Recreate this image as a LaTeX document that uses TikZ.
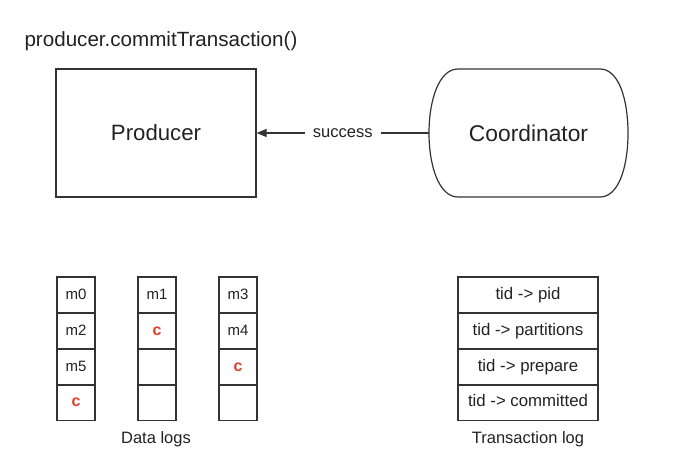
\documentclass[tikz,border=0pt]{standalone}
\usepackage{fontspec}
\setmainfont{Liberation Sans}
\usetikzlibrary{arrows.meta}
\definecolor{ink}{HTML}{333333}
\definecolor{txt}{HTML}{222222}
\definecolor{cred}{HTML}{E0402A}
\tikzset{
  box/.style={draw=ink, line width=1.2pt, text=txt},
  cell/.style={draw=ink, line width=1.1pt, minimum width=38pt, minimum height=36pt, inner sep=0pt, text=txt, font=\fontsize{15}{17}\selectfont, text height=11pt, text depth=3pt},
  tcell/.style={cell, minimum width=140pt, font=\fontsize{16.8}{19}\selectfont, text height=12pt, text depth=3.5pt},
  cmark/.style={text=cred, font=\fontsize{16}{18}\selectfont\bfseries},
  caption/.style={text=txt, font=\fontsize{16.5}{18}\selectfont},
  link/.style={draw=ink, line width=1.2pt},
}
\begin{document}
\begin{tikzpicture}[x=1pt,y=-1pt]
\useasboundingbox (0,0) rectangle (695,462);
\node[text=txt, font=\fontsize{20.6}{23}\selectfont, anchor=west] (title) at (21,41) {producer.commitTransaction()};
\node[box, minimum width=200pt, minimum height=128pt, inner sep=0pt, font=\fontsize{22.2}{25}\selectfont] (prod) at (156,133) {Producer};
\node[minimum width=199pt, minimum height=128pt, inner sep=0pt, text=txt, font=\fontsize{22.8}{25}\selectfont] (coord) at (528.5,133) {Coordinator};
\draw[ink, line width=1.2pt] (458,69) -- (600,69) .. controls (619,69) and (628,100) .. (628,133) .. controls (628,166) and (619,197) .. (600,197) -- (458,197) .. controls (439,197) and (429,166) .. (429,133) .. controls (429,100) and (439,69) .. (458,69) -- cycle;
\draw[link, -{Triangle[length=10pt,width=8pt]}] (coord.west) -- node[fill=white, inner xsep=8pt, text=txt, font=\fontsize{16.5}{18}\selectfont] (succ) {success} (prod.east);
% data logs
\node[cell] (a1) at (76,295) {m0};
\node[cell] (a2) at (76,331) {m2};
\node[cell] (a3) at (76,367) {m5};
\node[cell, cmark] (a4) at (76,402.5) {c};
\node[cell] (b1) at (157,295) {m1};
\node[cell, cmark] (b2) at (157,331) {c};
\node[cell] (b3) at (157,367) {};
\node[cell] (b4) at (157,402.5) {};
\node[cell] (c1) at (238,295) {m3};
\node[cell] (c2) at (238,331) {m4};
\node[cell, cmark] (c3) at (238,367) {c};
\node[cell] (c4) at (238,402.5) {};
\node[caption] (dl) at (156,439) {Data logs};
% transaction log
\node[tcell] (t1) at (528,295) {tid -> pid};
\node[tcell] (t2) at (528,331) {tid -> partitions};
\node[tcell] (t3) at (528,367) {tid -> prepare};
\node[tcell] (t4) at (528,402.5) {tid -> committed};
\node[caption] (tl) at (528,439) {Transaction log};
\end{tikzpicture}
\end{document}
